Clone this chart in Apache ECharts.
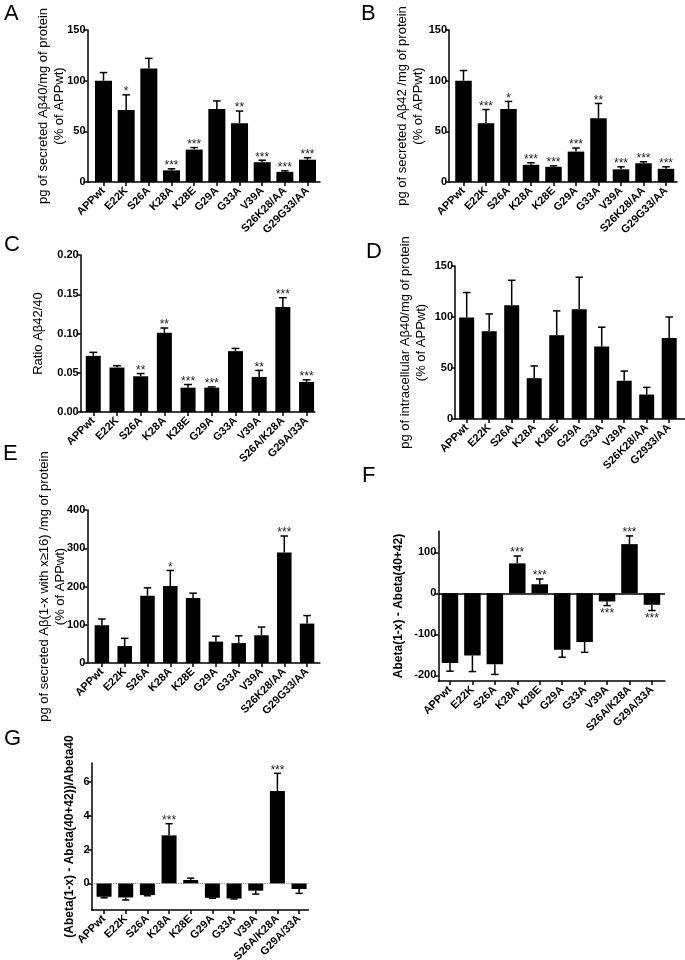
<!DOCTYPE html>
<html><head><meta charset="utf-8">
<script src="https://cdn.jsdelivr.net/npm/echarts@6/dist/echarts.min.js"></script>
<style>html,body{margin:0;padding:0;background:#fff}#c{width:685px;height:960px}</style>
</head><body><div id="c"></div>
<script>
// ---------- data ----------
const categoriesA = ['APPwt','E22K','S26A','K28A','K28E','G29A','G33A','V39A','S26K28/AA','G29G33/AA'];
const categoriesC = ['APPwt','E22K','S26A','K28A','K28E','G29A','G33A','V39A','S26A/K28A','G29A/33A'];
const categoriesD = ['APPwt','E22K','S26A','K28A','K28E','G29A','G33A','V39A','S26K28/AA','G2933/AA'];

const meanA = [100, 71, 112, 11.5, 32, 72, 58, 19.5, 10, 22];
const semA  = [8, 15, 10, 1.5, 2, 8, 12, 2, 1, 2];
const starsA = ['', '*', '', '***', '***', '', '**', '***', '***', '***'];

const meanB = [100, 58, 72, 17, 15, 30, 63, 12.5, 18.5, 13];
const semB  = [10, 13.5, 7.5, 2, 1, 3.5, 14.5, 2.5, 1.5, 2];
const starsB = ['', '***', '*', '***', '***', '***', '**', '***', '***', '***'];

const meanC = [0.0715, 0.0566, 0.0455, 0.101, 0.031, 0.031, 0.0775, 0.0447, 0.1336, 0.0383];
const semC  = [0.0045, 0.0024, 0.0035, 0.006, 0.004, 0.001, 0.0035, 0.0083, 0.012, 0.0027];
const starsC = ['', '', '**', '**', '***', '***', '', '**', '***', '***'];

const meanD = [99.5, 86, 111.5, 40, 82, 107.6, 71, 37.5, 24, 79.5];
const semD  = [24.5, 17, 24.5, 12, 24, 31.4, 19, 9.5, 7, 20.5];
const starsD = ['', '', '', '', '', '', '', '', '', ''];

const meanE = [98.7, 44.5, 176, 201, 170, 56, 52, 72.5, 289, 103];
const semE  = [16.3, 20, 20.5, 41, 12.5, 14, 19, 21.5, 43, 21];
const starsE = ['', '', '', '*', '', '', '', '', '***', ''];

const meanF = [-170, -152, -173, 73, 22, -138, -119, -20, 120, -28];
const semF  = [20, 39, 25, 18, 13, 18, 25, 10, 20, 14];
const starsF = ['', '', '', '***', '***', '', '', '***', '***', '***'];

const meanG = [-0.79, -0.83, -0.69, 2.83, 0.2, -0.85, -0.89, -0.43, 5.45, -0.33];
const semG  = [0.06, 0.15, 0.04, 0.69, 0.11, 0.03, 0.03, 0.2, 1.04, 0.26];
const starsG = ['', '', '', '***', '', '', '', '', '***', ''];

const ticksF = [-200, -100, 0, 100];
const ticksG = [0, 2, 4, 6];

// ---------- layout ----------
const FONT = "'Liberation Sans', Arial, Helvetica, sans-serif";
const panels = [
  {letter:'A', lx:4, ly:3, cats:categoriesA, mean:meanA, sem:semA, stars:starsA,
   left:87.5, top:30, xmin:-0.706, xmax:9.55, s:22.67, height:152, ymin:0, ymax:150, interval:50, bw:17,
   name:'pg of secreted Aβ40/mg of protein\n(% of APPwt)', nameGap:20.5, nameSize:13, bold:false},
  {letter:'B', lx:361, ly:3, cats:categoriesA, mean:meanB, sem:semB, stars:starsB,
   left:449, top:30, xmin:-0.644, xmax:9.49, s:22.5, height:152, ymin:0, ymax:150, interval:50, bw:16.5,
   name:'pg of secreted Aβ42 /mg of protein\n(% of APPwt)', nameGap:23, nameSize:13, bold:false},
  {letter:'C', lx:4, ly:234, cats:categoriesC, mean:meanC, sem:semC, stars:starsC,
   left:80.7, top:255, xmin:-0.53, xmax:9.35, s:23.7, height:157, ymin:0, ymax:0.2, interval:0.05, bw:15, dec:2,
   name:'Ratio Aβ42/40', nameGap:34, nameSize:13, bold:false},
  {letter:'D', lx:366, ly:241, cats:categoriesD, mean:meanD, sem:semD, stars:starsD,
   left:455, top:266, xmin:-0.52, xmax:9.9, s:22.5, height:153, ymin:0, ymax:150, interval:50, bw:15,
   name:'pg of intracellular Aβ40/mg of protein\n(% of APPwt)', nameGap:26, nameSize:13, bold:false},
  {letter:'E', lx:3, ly:443, cats:categoriesA, mean:meanE, sem:semE, stars:starsE,
   left:87.3, top:510, xmin:-0.64, xmax:9.56, s:22.8, height:153, ymin:0, ymax:400, interval:100, bw:14.5,
   name:'pg of secreted Aβ(1-x with x≥16) /mg of protein\n(% of APPwt)', nameGap:19, nameSize:13, bold:false},
  {letter:'F', lx:362, ly:465, cats:categoriesC, mean:meanF, sem:semF, stars:starsF,
   left:438.3, top:531, xmin:-0.52, xmax:9.58, s:22.44, height:150, ymin:-214, ymax:152, ticks:ticksF, bw:16.5,
   zero:{type:'solid', color:'#000', width:1.5},
   name:'Abeta(1-x) - Abeta(40+42)', nameGap:32, nameSize:12, bold:true},
  {letter:'G', lx:4, ly:728, cats:categoriesC, mean:meanG, sem:semG, stars:starsG,
   left:91.7, top:763, xmin:-0.57, xmax:9.43, s:21.67, height:147, ymin:-1.57, ymax:7.1, ticks:ticksG, bw:15,
   zero:{type:'dotted', color:'#777', width:1.2},
   name:'(Abeta(1-x) - Abeta(40+42))/Abeta40', nameGap:14, nameSize:12, bold:true}
];

const grid = [], xAxis = [], yAxis = [], series = [], graphic = [];
const idxs = [0,1,2,3,4,5,6,7,8,9];

panels.forEach((p, k) => {
  grid.push({left:p.left, top:p.top, width:(p.xmax - p.xmin) * p.s, height:p.height,
             containLabel:false, outerBoundsMode:'none'});
  xAxis.push({
    type:'value', gridIndex:k, min:p.xmin, max:p.xmax,
    axisLine:{show:true, onZero:false, lineStyle:{color:'#000', width:1.5}},
    axisTick:{show:true, length:4, customValues:idxs, lineStyle:{color:'#000', width:1.5}},
    axisLabel:{show:true, customValues:idxs, rotate:45, margin:7, fontSize:11, fontWeight:'bold',
               fontFamily:FONT, color:'#000', hideOverlap:false, formatter:(v) => p.cats[Math.round(v)]},
    splitLine:{show:false}
  });
  const ya = {
    type:'value', gridIndex:k, min:p.ymin, max:p.ymax,
    name:p.name, nameLocation:'middle', nameRotate:90, nameGap:p.nameGap, nameMoveOverlap:false,
    nameTextStyle:{fontSize:p.nameSize, lineHeight:16, fontFamily:FONT, color:'#000',
                   fontWeight:p.bold ? 'bold' : 'normal'},
    axisLine:{show:true, onZero:false, lineStyle:{color:'#000', width:1.5}},
    axisTick:{show:true, length:4, lineStyle:{color:'#000', width:1.5}},
    axisLabel:{show:true, margin:2, fontSize:11, fontWeight:'bold', fontFamily:FONT, color:'#000',
               formatter:(v) => p.dec ? v.toFixed(p.dec) : String(Math.round(v))},
    splitLine:{show:false}
  };
  if (p.ticks) {
    ya.axisTick.customValues = p.ticks;
    ya.axisLabel.customValues = p.ticks;
  } else {
    ya.interval = p.interval;
  }
  yAxis.push(ya);

  const bar = {
    type:'bar', xAxisIndex:k, yAxisIndex:k, barWidth:p.bw,
    itemStyle:{color:'#000'}, silent:true, animation:false,
    data:p.mean.map((m, i) => [i, m])
  };
  if (p.zero) {
    bar.markLine = {symbol:'none', silent:true, animation:false, label:{show:false},
      lineStyle:{type:p.zero.type, color:p.zero.color, width:p.zero.width},
      data:[{yAxis:0}]};
  }
  series.push(bar);

  const stars = p.stars;
  series.push({
    type:'custom', xAxisIndex:k, yAxisIndex:k, silent:true, animation:false, z:5,
    data:p.mean.map((m, i) => [i, m, p.sem[i]]),
    renderItem:function(params, api){
      const x = api.value(0), m = api.value(1), e = api.value(2);
      const dir = m < 0 ? -1 : 1;
      const p0 = api.coord([x, m]);
      const p1 = api.coord([x, m + dir * e]);
      const cw = api.size([0.33, 0])[0];
      const ch = [
        {type:'line', shape:{x1:p0[0], y1:p0[1], x2:p1[0], y2:p1[1]}, style:{stroke:'#000', lineWidth:1.5}},
        {type:'line', shape:{x1:p1[0]-cw/2, y1:p1[1], x2:p1[0]+cw/2, y2:p1[1]}, style:{stroke:'#000', lineWidth:1.5}}
      ];
      const st = stars[params.dataIndex];
      if (st) {
        ch.push({type:'text', x:p1[0], y: dir > 0 ? p1[1] + 3 : p1[1] + 14,
          style:{text:st, fill:'#222', font:'12px ' + FONT, textAlign:'center', textVerticalAlign:'bottom'}});
      }
      return {type:'group', children:ch};
    }
  });

  graphic.push({type:'text', left:p.lx, top:p.ly, silent:true,
    style:{text:p.letter, font:'22px ' + FONT, fill:'#000'}});
});

const chart = echarts.init(document.getElementById('c'), null, {renderer:'canvas'});
chart.setOption({
  backgroundColor:'#fff',
  animation:false,
  grid:grid, xAxis:xAxis, yAxis:yAxis, series:series, graphic:graphic
});
</script>
</body></html>
